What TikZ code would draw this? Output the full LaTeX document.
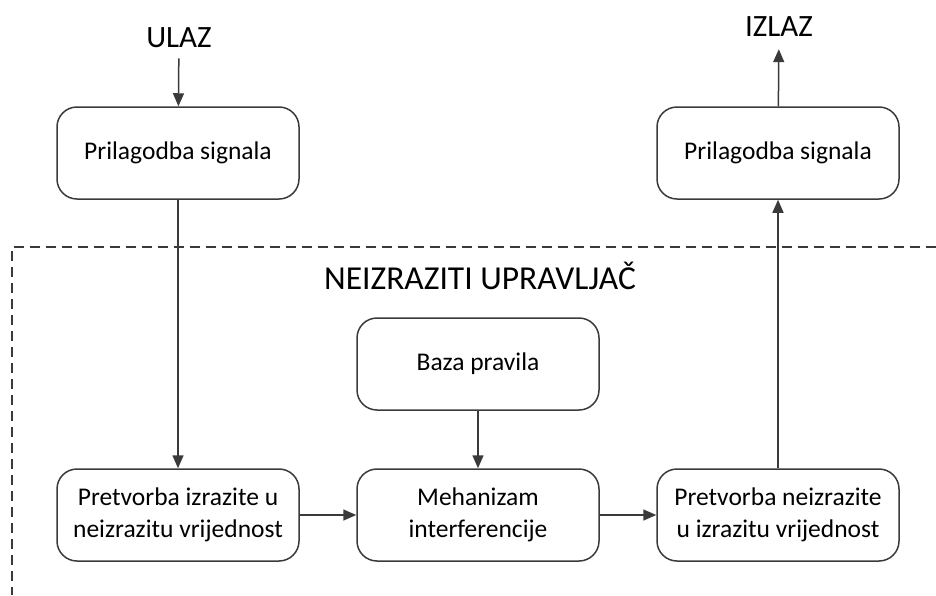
\documentclass[tikz,border=0pt]{standalone}
\usepackage{fontspec}
\setmainfont{Carlito}
\usetikzlibrary{arrows.meta}
\definecolor{linec}{HTML}{3A3A3A}
\begin{document}
\begin{tikzpicture}[x=1pt,y=-1pt,
  box/.style={draw=linec, line width=1.5pt, rounded corners=20pt, minimum width=242pt, minimum height=92pt, align=center, font=\fontsize{25.5}{32}\selectfont, inner sep=0pt},
  arr/.style={draw=linec, line width=1.5pt, -{Triangle[length=13pt,width=11pt]}},
  lbl/.style={font=\fontsize{31}{36}\selectfont, inner xsep=0pt}]
\useasboundingbox (0,0) rectangle (936,595);
% dashed controller frame
\draw[linec, line width=1.3pt, dash pattern=on 10pt off 6pt] (936,247) -- (12,247) -- (12,595);
\node[lbl, anchor=base, font=\fontsize{33.5}{38}\selectfont] at (480,289) (title) {NEIZRAZITI UPRAVLJAČ};
% nodes
\node[lbl, anchor=base, inner ysep=11pt] at (179,47) (ulaz) {ULAZ};
\node[lbl, anchor=base, inner ysep=13pt] at (779,36) (izlaz) {IZLAZ};
\node[box] at (178,153) (pin) {Prilagodba signala};
\node[box] at (778,153) (pout) {Prilagodba signala};
\node[box] at (478,364) (baza) {Baza pravila};
\node[box] at (178,515) (fuz) {Pretvorba izrazite u\\neizrazitu vrijednost};
\node[box] at (478,515) (meh) {Mehanizam\\interferencije};
\node[box] at (778,515) (defuz) {Pretvorba neizrazite\\u izrazitu vrijednost};
% connectors
\draw[arr] (ulaz) -- (pin);
\draw[arr] (pin) -- (fuz);
\draw[arr] (baza) -- (meh);
\draw[arr] (fuz) -- (meh);
\draw[arr] (meh) -- (defuz);
\draw[arr] (defuz) -- (pout);
\draw[arr] (pout) -- (izlaz);
\end{tikzpicture}
\end{document}
